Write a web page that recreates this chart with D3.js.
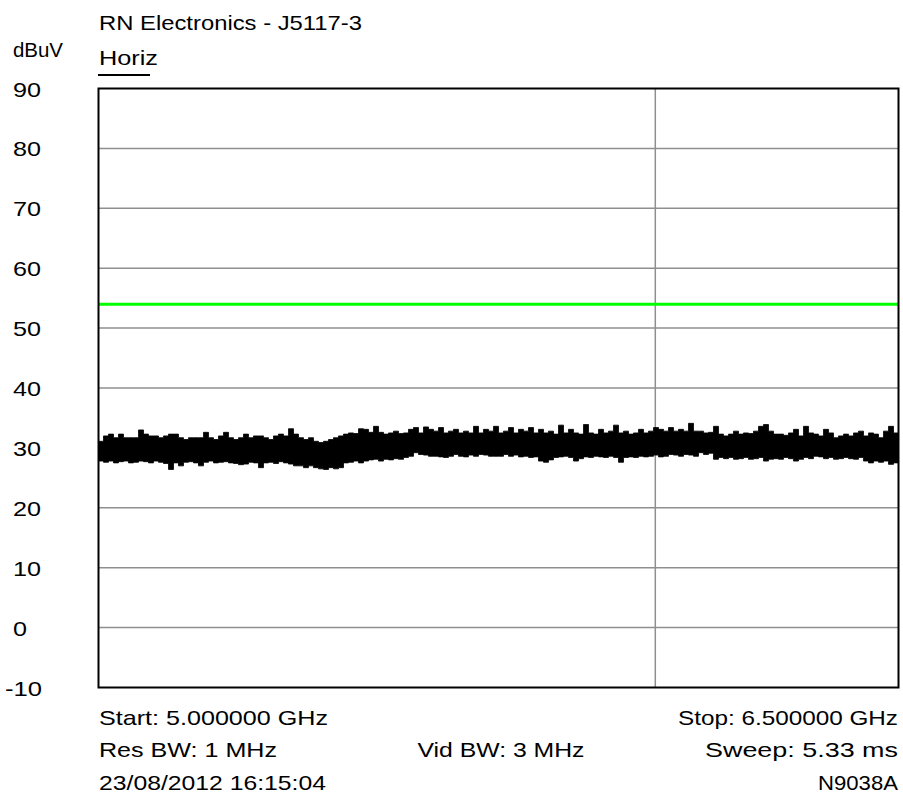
<!DOCTYPE html>
<html>
<head>
<meta charset="utf-8">
<script src="https://cdn.jsdelivr.net/npm/d3@7"></script>
<style>
  html, body { margin: 0; padding: 0; background: #fff; }
  svg { display: block; }
  text { font-family: "Liberation Sans", Arial, sans-serif; font-size: 21px; fill: #000; }
</style>
</head>
<body>
<svg id="chart" width="903" height="803"></svg>
<script>
// ---------------- data ----------------
const title = "RN Electronics - J5117-3";
const unitLabel = "dBuV";
const traceName = "Horiz";
const yTicks = [90, 80, 70, 60, 50, 40, 30, 20, 10, 0, -10];
const freqStartGHz = 5.0;
const freqStopGHz = 6.5;
const limitLine = 54;
const markerFreqs = [6.044];
const footerLeft = ["Start: 5.000000 GHz", "Res BW: 1 MHz", "23/08/2012 16:15:04"];
const footerCenter = ["", "Vid BW: 3 MHz", ""];
const footerRight = ["Stop: 6.500000 GHz", "Sweep: 5.33 ms", "N9038A"];

// peak envelope of the noisy trace (dBuV), 160 equally spaced sweep bins
const traceMax = [
  31.1, 32.0, 32.3, 31.7, 32.3, 31.7, 31.7, 31.7, 33.0, 32.3, 32.0, 32.0, 31.7, 32.0, 32.3, 32.3, 31.7, 31.4, 31.7, 31.7,
  31.7, 32.6, 31.7, 31.4, 32.0, 32.6, 31.7, 31.4, 31.7, 32.3, 31.7, 32.0, 32.0, 31.7, 31.4, 32.0, 32.3, 32.0, 33.2, 32.3,
  31.7, 31.4, 31.7, 31.1, 30.9, 31.1, 31.4, 31.7, 32.0, 32.3, 32.5, 32.4, 33.2, 33.1, 32.6, 33.6, 32.6, 32.3, 32.5, 32.8,
  32.4, 32.5, 33.1, 33.4, 32.5, 33.5, 33.1, 32.8, 33.4, 32.5, 32.8, 33.1, 32.5, 32.8, 32.5, 33.6, 32.5, 33.1, 32.8, 33.6,
  32.5, 32.8, 33.4, 32.5, 33.1, 32.8, 33.4, 32.5, 33.1, 32.5, 32.8, 32.3, 33.8, 32.5, 33.1, 32.5, 32.3, 33.9, 32.5, 32.3,
  33.1, 32.5, 32.8, 33.8, 32.5, 32.8, 32.3, 32.5, 33.1, 32.5, 32.8, 33.4, 33.1, 32.8, 33.4, 32.8, 33.1, 32.8, 34.1, 32.8,
  32.8, 32.5, 32.6, 33.6, 32.3, 32.0, 32.3, 32.8, 32.3, 32.5, 32.4, 32.8, 33.6, 33.9, 32.8, 32.3, 32.3, 32.1, 32.5, 33.1,
  32.0, 33.6, 32.5, 32.3, 32.0, 33.1, 32.5, 31.7, 32.0, 32.3, 32.0, 32.5, 32.8, 32.0, 32.5, 32.3, 31.7, 32.8, 33.6, 32.5
];
// minimum envelope of the noisy trace (dBuV)
const traceMin = [
  27.8, 27.6, 27.8, 27.5, 27.7, 27.8, 27.5, 27.6, 27.8, 27.7, 27.5, 27.8, 27.6, 27.4, 26.4, 27.5, 27.0, 27.6, 27.7, 27.5,
  27.0, 27.6, 27.8, 27.5, 27.6, 27.7, 27.5, 27.4, 27.2, 27.3, 27.6, 27.5, 26.7, 27.5, 27.6, 27.4, 27.7, 27.5, 27.3, 27.0,
  27.0, 26.7, 27.0, 26.7, 26.5, 26.4, 26.7, 26.5, 26.7, 27.5, 27.6, 27.8, 27.5, 27.8, 28.0, 28.1, 27.8, 28.1, 28.0, 28.2,
  28.1, 28.4, 28.6, 29.2, 28.9, 28.8, 28.6, 28.6, 28.5, 28.4, 28.6, 28.9, 28.6, 28.5, 28.8, 28.6, 28.9, 28.8, 28.6, 28.6,
  28.6, 28.9, 28.6, 28.8, 28.5, 28.6, 28.4, 28.5, 27.8, 27.6, 28.0, 28.4, 28.5, 28.6, 28.4, 27.8, 28.2, 28.5, 28.4, 28.6,
  28.5, 28.4, 28.6, 28.4, 27.6, 28.4, 28.5, 28.4, 28.6, 28.5, 28.6, 28.8, 28.5, 28.6, 28.9, 28.8, 28.6, 28.9, 28.8, 28.6,
  29.2, 28.9, 29.1, 28.1, 28.4, 28.2, 28.4, 28.1, 28.2, 28.4, 28.1, 28.2, 28.4, 27.8, 28.1, 28.2, 28.1, 28.4, 28.2, 27.8,
  28.1, 28.4, 28.2, 28.6, 28.5, 28.2, 28.4, 28.1, 28.2, 28.4, 28.2, 28.1, 28.4, 27.8, 27.5, 27.8, 27.6, 27.8, 27.25, 27.5
];

// ---------------- layout ----------------
const plot = { left: 98.5, right: 898.5, top: 88.5, bottom: 687.5 };
const svg = d3.select("#chart");

const x = d3.scaleLinear().domain([freqStartGHz, freqStopGHz]).range([plot.left, plot.right]);
const y = d3.scaleLinear().domain([-10, 90]).range([plot.bottom, plot.top]);

// horizontal gridlines
svg.append("g").selectAll("line").data(yTicks.filter(t => t !== 90 && t !== -10)).join("line")
  .attr("x1", plot.left).attr("x2", plot.right)
  .attr("y1", d => y(d)).attr("y2", d => y(d))
  .attr("stroke", "#8f8f8f").attr("stroke-width", 1.5);

// vertical marker gridline(s)
svg.append("g").selectAll("line").data(markerFreqs).join("line")
  .attr("x1", d => x(d)).attr("x2", d => x(d))
  .attr("y1", plot.top).attr("y2", plot.bottom)
  .attr("stroke", "#8f8f8f").attr("stroke-width", 1.5);

// limit line
svg.append("line")
  .attr("x1", plot.left).attr("x2", plot.right)
  .attr("y1", y(limitLine)).attr("y2", y(limitLine))
  .attr("stroke", "#00ff00").attr("stroke-width", 3);

// trace as min/max envelope (step)
const N = traceMax.length;
const binW = (freqStopGHz - freqStartGHz) / N;
const traceData = traceMax.map((v, i) => ({ f: freqStartGHz + i * binW, hi: v, lo: traceMin[i] }));
traceData.push({ f: freqStopGHz, hi: traceMax[N - 1], lo: traceMin[N - 1] });
const area = d3.area()
  .x(d => x(d.f))
  .y0(d => y(d.lo))
  .y1(d => y(d.hi))
  .curve(d3.curveStepAfter);
svg.append("path").datum(traceData).attr("d", area)
  .attr("fill", "#000").attr("stroke", "#000").attr("stroke-width", 0.8);

// frame
svg.append("rect")
  .attr("x", plot.left).attr("y", plot.top)
  .attr("width", plot.right - plot.left).attr("height", plot.bottom - plot.top)
  .attr("fill", "none").attr("stroke", "#000").attr("stroke-width", 2);

// y tick labels
svg.append("g").selectAll("text").data(yTicks).join("text")
  .attr("x", d => d < 0 ? 5 : 13)
  .attr("y", d => y(d) + 8)
  .attr("text-anchor", "start")
  .attr("textLength", d => String(d).length * 14 + (d < 0 ? -5 : 0))
  .attr("lengthAdjust", "spacingAndGlyphs")
  .text(d => d);

// helper for stretched text
function label(txt, xPos, yPos, anchor, len) {
  if (!txt) return;
  svg.append("text").attr("x", xPos).attr("y", yPos)
    .attr("text-anchor", anchor)
    .attr("textLength", len).attr("lengthAdjust", "spacingAndGlyphs")
    .text(txt);
}

label(title, 99, 30, "start", 263);
label(unitLabel, 13, 57, "start", 50);
label(traceName, 99, 65, "start", 59);
svg.append("line").attr("x1", 98).attr("x2", 150).attr("y1", 75).attr("y2", 75)
  .attr("stroke", "#000").attr("stroke-width", 2);

const footerY = [725, 757, 790];
const leftLens = [229, 178, 227];
const centerLens = [0, 167, 0];
const rightLens = [220, 193, 80];
footerLeft.forEach((t, i) => label(t, 99, footerY[i], "start", leftLens[i]));
footerCenter.forEach((t, i) => label(t, 501, footerY[i], "middle", centerLens[i]));
footerRight.forEach((t, i) => label(t, 898, footerY[i], "end", rightLens[i]));
</script>
</body>
</html>
